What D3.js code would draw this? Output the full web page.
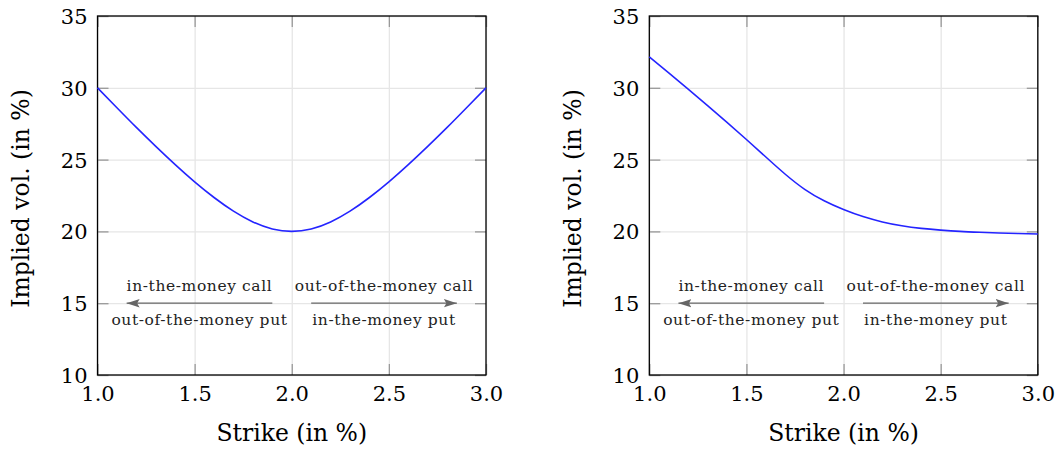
<!DOCTYPE html>
<html>
<head>
<meta charset="utf-8">
<script src="https://cdn.jsdelivr.net/npm/d3@7"></script>
<style>
  html, body { margin: 0; padding: 0; background: #fff; }
  svg { display: block; }
  svg text { font-family: "DejaVu Serif"; }
</style>
</head>
<body>
<svg id="chart" width="1062" height="450"></svg>
<script>
// Strike grid shared by both panels (in %)
const strikes = [1.0, 1.1, 1.2, 1.3, 1.4, 1.5, 1.6, 1.7, 1.8, 1.9, 2.0,
                 2.1, 2.2, 2.3, 2.4, 2.5, 2.6, 2.7, 2.8, 2.9, 3.0];

// Left panel: symmetric volatility smile (in %)
const smileVol = [30.0, 28.61, 27.24, 25.92, 24.65, 23.45, 22.36, 21.41, 20.66, 20.17, 20.0,
                  20.17, 20.66, 21.41, 22.36, 23.45, 24.65, 25.92, 27.24, 28.61, 30.0];

// Right panel: volatility skew (in %)
const skewVol = [32.15, 31.04, 29.91, 28.76, 27.59, 26.40, 25.18, 23.98, 22.93, 22.13, 21.52,
                 21.03, 20.66, 20.39, 20.21, 20.09, 20.0, 19.94, 19.89, 19.85, 19.82];

// Axis ticks
const xTicks = [1.0, 1.5, 2.0, 2.5, 3.0];
const yTicks = [10, 15, 20, 25, 30, 35];
const xDomain = [1, 3];
const yDomain = [10, 35];

// Moneyness annotations: arrows at vol = 15, from strike to strike
const arrowLevel = 15;
const arrowSpans = [[1.9, 1.15], [2.1, 2.85]];
const labelsAbove = ["in-the-money call", "out-of-the-money call"];
const labelsBelow = ["out-of-the-money put", "in-the-money put"];

const xTitle = "Strike (in %)";
const yTitle = "Implied vol. (in %)";

const svg = d3.select("#chart");
const W = 388.5, H = 359;
const panels = [
  { left: 97.5, top: 16, values: smileVol },
  { left: 649.3, top: 16, values: skewVol }
];

const defs = svg.append("defs");
defs.append("marker")
  .attr("id", "head")
  .attr("viewBox", "0 -5 14 10")
  .attr("refX", 13).attr("refY", 0)
  .attr("markerWidth", 14).attr("markerHeight", 10)
  .attr("markerUnits", "userSpaceOnUse")
  .attr("orient", "auto")
  .append("path")
  .attr("d", "M13,0 L0,-4.2 L2.5,0 L0,4.2 Z")
  .attr("fill", "#666");

panels.forEach(p => {
  const g = svg.append("g").attr("transform", `translate(${p.left},${p.top})`);
  const x = d3.scaleLinear().domain(xDomain).range([0, W]);
  const y = d3.scaleLinear().domain(yDomain).range([H, 0]);

  // grid
  const gridX = g.append("g").attr("transform", `translate(0,${H})`)
    .call(d3.axisBottom(x).tickValues(xTicks).tickSize(-H).tickFormat(""));
  const gridY = g.append("g")
    .call(d3.axisLeft(y).tickValues(yTicks).tickSize(-W).tickFormat(""));
  [gridX, gridY].forEach(a => {
    a.select(".domain").remove();
    a.selectAll("line").attr("stroke", "#e6e6e6").attr("stroke-width", 1.3);
  });

  // inward tick marks on all four sides, labels on bottom and left
  const tickLen = 11;
  const bottom = g.append("g").attr("transform", `translate(0,${H})`)
    .call(d3.axisBottom(x).tickValues(xTicks).tickSize(-tickLen).tickPadding(11.5)
      .tickFormat(d3.format(".1f")));
  const top = g.append("g")
    .call(d3.axisTop(x).tickValues(xTicks).tickSize(-tickLen).tickFormat(""));
  const left = g.append("g")
    .call(d3.axisLeft(y).tickValues(yTicks).tickSize(-tickLen).tickPadding(10)
      .tickFormat(d3.format("d")));
  const right = g.append("g").attr("transform", `translate(${W},0)`)
    .call(d3.axisRight(y).tickValues(yTicks).tickSize(-tickLen).tickFormat(""));
  [bottom, top, left, right].forEach(a => {
    a.select(".domain").remove();
    a.attr("font-family", null);
    a.selectAll("line").attr("stroke", "#999").attr("stroke-width", 1.3);
    a.selectAll("text")
      .attr("fill", "#000")
      .style("font-size", "21px");
  });
  left.selectAll("text").attr("dy", "0.36em");

  // frame
  g.append("rect")
    .attr("x", 0).attr("y", 0).attr("width", W).attr("height", H)
    .attr("fill", "none").attr("stroke", "#000").attr("stroke-width", 1.3);

  // volatility curve
  const line = d3.line()
    .x((d, i) => x(strikes[i]))
    .y(d => y(d))
    .curve(d3.curveNatural);
  g.append("path")
    .datum(p.values)
    .attr("d", line)
    .attr("fill", "none")
    .attr("stroke", "#2424ff")
    .attr("stroke-width", 1.6);

  // moneyness arrows and labels
  arrowSpans.forEach((span, i) => {
    g.append("line")
      .attr("x1", x(span[0])).attr("x2", x(span[1]))
      .attr("y1", y(arrowLevel)).attr("y2", y(arrowLevel))
      .attr("stroke", "#666").attr("stroke-width", 1.3)
      .attr("marker-end", "url(#head)");
    const mid = (span[0] + span[1]) / 2;
    g.append("text")
      .attr("x", x(mid)).attr("y", y(arrowLevel) - 12.5)
      .attr("text-anchor", "middle")
      .style("font-size", "15.5px").style("letter-spacing", "0.6px")
      .attr("fill", "#222")
      .text(labelsAbove[i]);
    g.append("text")
      .attr("x", x(mid)).attr("y", y(arrowLevel) + 22)
      .attr("text-anchor", "middle")
      .style("font-size", "15.5px").style("letter-spacing", "0.6px")
      .attr("fill", "#222")
      .text(labelsBelow[i]);
  });

  // axis titles
  g.append("text")
    .attr("x", W / 2).attr("y", H + 66)
    .attr("text-anchor", "middle")
    .style("font-size", "23.5px")
    .attr("fill", "#000")
    .text(xTitle);
  g.append("text")
    .attr("transform", `translate(-68.5,${H / 2 + 3}) rotate(-90)`)
    .attr("text-anchor", "middle")
    .style("font-size", "23.5px")
    .attr("fill", "#000")
    .text(yTitle);
});
</script>
</body>
</html>
